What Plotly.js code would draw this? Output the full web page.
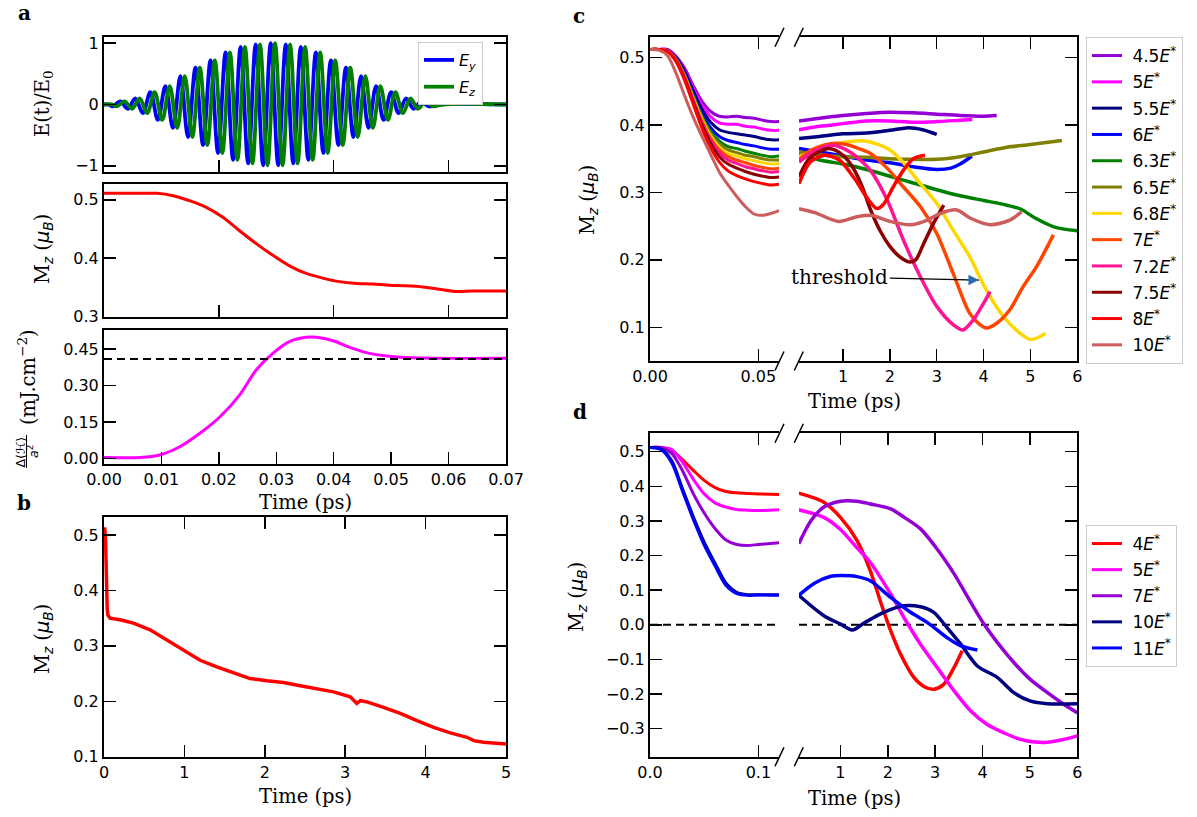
<!DOCTYPE html>
<html><head><meta charset="utf-8">
<script src="https://cdn.plot.ly/plotly-3.0.1.min.js"></script>
<style>html,body{margin:0;padding:0;background:#fff;}#chart{width:1197px;height:817px;}</style>
</head><body><div id="chart"></div>
<script>
// ---------- Panel a (top): laser pulse, extrema ----------
const pulseEyT = [0, 0.0008, 0.00152, 0.00283, 0.00414, 0.00545, 0.00676, 0.00807, 0.00938, 0.01069, 0.01200, 0.01331, 0.01462, 0.01593, 0.01724, 0.01855, 0.01986, 0.02117, 0.02248, 0.02379, 0.02510, 0.02641, 0.02772, 0.02903, 0.03034, 0.03165, 0.03296, 0.03427, 0.03558, 0.03689, 0.03820, 0.03951, 0.04082, 0.04213, 0.04344, 0.04475, 0.04606, 0.04737, 0.04868, 0.04999, 0.05130, 0.05261, 0.05392, 0.05523, 0.05654, 0.0580, 0.0700];
const pulseEyV = [0, 0, -0.03, 0.05, -0.07, 0.10, -0.14, 0.20, -0.25, 0.30, -0.38, 0.46, -0.53, 0.60, -0.66, 0.72, -0.79, 0.85, -0.90, 0.94, -0.96, 0.98, -0.99, 1.00, -0.99, 0.98, -0.96, 0.94, -0.90, 0.85, -0.79, 0.72, -0.66, 0.60, -0.53, 0.46, -0.38, 0.30, -0.25, 0.20, -0.14, 0.10, -0.07, 0.05, -0.03, 0, 0];
const pulseEzT = [0, 0.0015, 0.00227, 0.00358, 0.00489, 0.00620, 0.00751, 0.00882, 0.01013, 0.01144, 0.01275, 0.01406, 0.01537, 0.01668, 0.01799, 0.01930, 0.02061, 0.02192, 0.02323, 0.02454, 0.02585, 0.02716, 0.02847, 0.02978, 0.03109, 0.03240, 0.03371, 0.03502, 0.03633, 0.03764, 0.03895, 0.04026, 0.04157, 0.04288, 0.04419, 0.04550, 0.04681, 0.04812, 0.04943, 0.05074, 0.05205, 0.05336, 0.05467, 0.05598, 0.05729, 0.0590, 0.0700];
const pulseEzV = [0, 0, -0.03, 0.05, -0.07, 0.10, -0.14, 0.20, -0.25, 0.30, -0.38, 0.46, -0.53, 0.60, -0.66, 0.72, -0.79, 0.85, -0.90, 0.94, -0.96, 0.98, -0.99, 1.00, -0.99, 0.98, -0.96, 0.94, -0.90, 0.85, -0.79, 0.72, -0.66, 0.60, -0.53, 0.46, -0.38, 0.30, -0.25, 0.20, -0.14, 0.10, -0.07, 0.05, -0.03, 0, 0];

// ---------- Panel a (middle): Mz during the pulse ----------
const mzShortT = [0, 0.005, 0.0092, 0.012, 0.015, 0.0178, 0.0207, 0.0236, 0.0265, 0.0294, 0.0323, 0.0352, 0.0381, 0.041, 0.044, 0.0468, 0.0497, 0.0526, 0.0555, 0.0584, 0.0613, 0.0642, 0.0671, 0.07];
const mzShortV = [0.511, 0.511, 0.511, 0.507, 0.498, 0.487, 0.470, 0.447, 0.425, 0.405, 0.387, 0.374, 0.366, 0.360, 0.357, 0.356, 0.354, 0.353, 0.351, 0.347, 0.343, 0.344, 0.344, 0.344];

// ---------- Panel a (bottom): absorbed energy ----------
const energyT = [0, 0.0063, 0.0097, 0.0132, 0.0167, 0.0202, 0.0236, 0.0265, 0.0294, 0.0323, 0.0352, 0.037, 0.0399, 0.0428, 0.0457, 0.0486, 0.0515, 0.0573, 0.07];
const energyV = [0.005, 0.005, 0.015, 0.049, 0.104, 0.172, 0.261, 0.364, 0.432, 0.480, 0.498, 0.498, 0.484, 0.457, 0.435, 0.423, 0.416, 0.412, 0.412];
const energyLevelT = [0, 0.07];
const energyLevelV = [0.409, 0.409];

// ---------- Panel b: Mz over 5 ps ----------
const mzLongT = [0, 0.01, 0.02, 0.03, 0.04, 0.05, 0.075, 0.2, 0.365, 0.573, 0.78, 0.988, 1.195, 1.402, 1.61, 1.817, 2.025, 2.232, 2.44, 2.647, 2.855, 3.062, 3.145, 3.19, 3.27, 3.477, 3.685, 3.892, 4.1, 4.307, 4.515, 4.598, 4.72, 5.0];
const mzLongV = [0.511, 0.511, 0.487, 0.405, 0.366, 0.355, 0.350, 0.347, 0.341, 0.329, 0.311, 0.293, 0.274, 0.262, 0.252, 0.241, 0.237, 0.234, 0.228, 0.223, 0.217, 0.208, 0.196, 0.201, 0.199, 0.189, 0.178, 0.165, 0.153, 0.143, 0.135, 0.129, 0.126, 0.123];

// ---------- Panel c ----------
const cLabels = ['4.5<i>E</i><sup>*</sup>', '5<i>E</i><sup>*</sup>', '5.5<i>E</i><sup>*</sup>', '6<i>E</i><sup>*</sup>', '6.3<i>E</i><sup>*</sup>', '6.5<i>E</i><sup>*</sup>', '6.8<i>E</i><sup>*</sup>', '7<i>E</i><sup>*</sup>', '7.2<i>E</i><sup>*</sup>', '7.5<i>E</i><sup>*</sup>', '8<i>E</i><sup>*</sup>', '10<i>E</i><sup>*</sup>'];
const cColors = ['#9400d3', '#ff00ff', '#000080', '#0000ff', '#008000', '#808000', '#ffd700', '#ff4500', '#ff1493', '#8b0000', '#ff0000', '#cd5c5c'];
const cLeftT = [0, 0.004, 0.008, 0.012, 0.016, 0.02, 0.024, 0.028, 0.032, 0.036, 0.04, 0.044, 0.048, 0.052, 0.056, 0.0595];
const c45L = [0.512, 0.512, 0.512, 0.502, 0.484, 0.458, 0.435, 0.420, 0.413, 0.412, 0.413, 0.411, 0.410, 0.407, 0.405, 0.405];
const c5L  = [0.512, 0.512, 0.512, 0.501, 0.481, 0.454, 0.429, 0.412, 0.403, 0.401, 0.401, 0.398, 0.397, 0.394, 0.392, 0.392];
const c55L = [0.512, 0.512, 0.511, 0.500, 0.479, 0.450, 0.423, 0.404, 0.393, 0.389, 0.387, 0.385, 0.383, 0.380, 0.378, 0.378];
const c6L  = [0.512, 0.512, 0.511, 0.498, 0.476, 0.446, 0.417, 0.396, 0.383, 0.377, 0.374, 0.371, 0.369, 0.366, 0.364, 0.364];
const c63L = [0.512, 0.512, 0.510, 0.498, 0.474, 0.443, 0.413, 0.390, 0.376, 0.368, 0.365, 0.361, 0.358, 0.355, 0.353, 0.354];
const c65L = [0.512, 0.512, 0.510, 0.497, 0.473, 0.441, 0.411, 0.387, 0.372, 0.363, 0.359, 0.355, 0.353, 0.350, 0.348, 0.348];
const c68L = [0.512, 0.512, 0.510, 0.497, 0.472, 0.439, 0.408, 0.384, 0.367, 0.358, 0.354, 0.350, 0.347, 0.344, 0.342, 0.343];
const c7L  = [0.512, 0.512, 0.510, 0.496, 0.471, 0.437, 0.405, 0.380, 0.363, 0.353, 0.348, 0.344, 0.340, 0.337, 0.335, 0.336];
const c72L = [0.512, 0.512, 0.510, 0.496, 0.470, 0.436, 0.403, 0.377, 0.359, 0.348, 0.343, 0.338, 0.335, 0.332, 0.330, 0.331];
const c75L = [0.512, 0.512, 0.509, 0.495, 0.468, 0.433, 0.400, 0.373, 0.353, 0.342, 0.336, 0.331, 0.327, 0.324, 0.322, 0.323];
const c8L  = [0.512, 0.512, 0.509, 0.494, 0.466, 0.430, 0.395, 0.366, 0.345, 0.332, 0.325, 0.320, 0.316, 0.313, 0.311, 0.312];
const c10L = [0.512, 0.511, 0.503, 0.477, 0.443, 0.411, 0.383, 0.356, 0.330, 0.311, 0.294, 0.279, 0.268, 0.266, 0.269, 0.273];

const c45RT = [0.06, 0.5, 1.0, 1.5, 2.0, 2.5, 3.0, 3.5, 4.0, 4.28];
const c45RV = [0.406, 0.410, 0.414, 0.417, 0.419, 0.418, 0.416, 0.414, 0.413, 0.414];
const c5RT = [0.06, 0.5, 1.0, 1.5, 2.0, 2.5, 3.0, 3.5, 3.76];
const c5RV = [0.393, 0.398, 0.402, 0.406, 0.406, 0.404, 0.405, 0.407, 0.408];
const c55RT = [0.06, 0.5, 1.0, 1.5, 2.0, 2.4, 2.7, 3.0];
const c55RV = [0.380, 0.383, 0.387, 0.388, 0.392, 0.396, 0.393, 0.386];
const c6RT = [0.06, 0.5, 1.0, 1.5, 2.0, 2.5, 3.0, 3.3, 3.5, 3.75];
const c6RV = [0.365, 0.360, 0.354, 0.348, 0.344, 0.338, 0.334, 0.336, 0.342, 0.354];
const c63RT = [0.06, 0.5, 1.0, 1.5, 2.0, 2.5, 3.0, 3.5, 4.0, 4.5, 4.8, 5.1, 5.5, 6.0];
const c63RV = [0.357, 0.348, 0.342, 0.334, 0.324, 0.314, 0.304, 0.295, 0.288, 0.281, 0.275, 0.262, 0.249, 0.243];
const c65RT = [0.06, 0.5, 1.0, 1.5, 2.0, 2.5, 3.0, 3.5, 4.0, 4.5, 5.0, 5.67];
const c65RV = [0.360, 0.356, 0.353, 0.352, 0.350, 0.349, 0.349, 0.353, 0.360, 0.367, 0.371, 0.377];
const c68RT = [0.06, 0.5, 1.0, 1.5, 2.0, 2.3, 2.65, 3.0, 3.35, 3.7, 4.06, 4.42, 4.78, 5.0, 5.2, 5.32];
const c68RV = [0.353, 0.365, 0.374, 0.376, 0.363, 0.343, 0.313, 0.284, 0.244, 0.205, 0.155, 0.116, 0.091, 0.082, 0.086, 0.091];
const c7RT = [0.06, 0.3, 0.7, 1.0, 1.3, 1.58, 1.94, 2.29, 2.65, 3.0, 3.35, 3.7, 3.92, 4.06, 4.28, 4.56, 4.84, 5.13, 5.49];
const c7RV = [0.348, 0.362, 0.372, 0.372, 0.366, 0.358, 0.336, 0.308, 0.279, 0.239, 0.180, 0.121, 0.104, 0.099, 0.106, 0.126, 0.160, 0.190, 0.237];
const c72RT = [0.06, 0.4, 0.8, 1.1, 1.3, 1.58, 1.94, 2.29, 2.65, 3.0, 3.35, 3.56, 3.78, 3.96, 4.14];
const c72RV = [0.345, 0.362, 0.370, 0.362, 0.352, 0.333, 0.289, 0.229, 0.175, 0.131, 0.104, 0.096, 0.111, 0.131, 0.153];
const c75RT = [0.06, 0.3, 0.7, 1.0, 1.2, 1.4, 1.6, 1.8, 2.0, 2.2, 2.4, 2.55, 2.72, 2.93, 3.15];
const c75RV = [0.323, 0.352, 0.365, 0.355, 0.338, 0.310, 0.272, 0.242, 0.220, 0.205, 0.197, 0.200, 0.224, 0.254, 0.281];
const c8RT = [0.06, 0.3, 0.6, 0.92, 1.27, 1.5, 1.72, 1.86, 2.07, 2.29, 2.5, 2.75];
const c8RV = [0.313, 0.345, 0.355, 0.348, 0.318, 0.293, 0.276, 0.282, 0.308, 0.333, 0.350, 0.355];
const c10RT = [0.06, 0.4, 0.9, 1.3, 1.6, 2.0, 2.44, 2.8, 3.08, 3.43, 3.71, 4.14, 4.56, 4.81];
const c10RV = [0.276, 0.270, 0.257, 0.264, 0.266, 0.257, 0.252, 0.259, 0.269, 0.274, 0.262, 0.252, 0.259, 0.271];

// ---------- Panel d ----------
const dLabels = ['4<i>E</i><sup>*</sup>', '5<i>E</i><sup>*</sup>', '7<i>E</i><sup>*</sup>', '10<i>E</i><sup>*</sup>', '11<i>E</i><sup>*</sup>'];
const dColors = ['#ff0000', '#ff00ff', '#9400d3', '#000080', '#0000ff'];
const dLeftT = [0, 0.01, 0.02, 0.03, 0.04, 0.05, 0.06, 0.07, 0.08, 0.09, 0.1, 0.119];
const d4L  = [0.512, 0.512, 0.503, 0.477, 0.446, 0.417, 0.396, 0.385, 0.381, 0.379, 0.378, 0.376];
const d5L  = [0.512, 0.512, 0.506, 0.470, 0.420, 0.378, 0.352, 0.340, 0.333, 0.331, 0.330, 0.332];
const d7L  = [0.512, 0.512, 0.495, 0.445, 0.378, 0.323, 0.278, 0.245, 0.232, 0.229, 0.232, 0.237];
const d10L = [0.512, 0.508, 0.474, 0.393, 0.312, 0.239, 0.178, 0.121, 0.094, 0.087, 0.087, 0.087];
const d11L = [0.512, 0.506, 0.468, 0.386, 0.304, 0.230, 0.170, 0.114, 0.090, 0.085, 0.086, 0.085];
const d4RT = [0.12, 0.65, 1.0, 1.35, 1.63, 1.84, 2.06, 2.27, 2.55, 2.76, 2.97, 3.18, 3.4, 3.57];
const d4RV = [0.380, 0.354, 0.310, 0.243, 0.156, 0.069, -0.017, -0.085, -0.152, -0.178, -0.186, -0.172, -0.123, -0.075];
const d5RT = [0.12, 0.65, 1.0, 1.35, 1.63, 2.06, 2.34, 2.69, 3.04, 3.4, 3.75, 4.1, 4.45, 4.8, 5.3, 5.72, 6.0];
const d5RV = [0.332, 0.310, 0.275, 0.222, 0.180, 0.089, 0.021, -0.056, -0.123, -0.191, -0.249, -0.288, -0.312, -0.331, -0.340, -0.331, -0.321];
const d7RT = [0.12, 0.38, 0.65, 1.0, 1.35, 1.63, 2.06, 2.34, 2.69, 3.04, 3.4, 3.75, 4.03, 4.31, 4.66, 5.0, 5.37, 5.72, 6.0];
const d7RV = [0.234, 0.301, 0.340, 0.357, 0.357, 0.349, 0.335, 0.311, 0.277, 0.219, 0.147, 0.065, 0.002, -0.051, -0.109, -0.157, -0.196, -0.230, -0.254];
const d10RT = [0.12, 0.65, 1.0, 1.25, 1.5, 1.91, 2.34, 2.69, 2.97, 3.25, 3.54, 3.89, 4.31, 4.66, 5.0, 5.37, 6.0];
const d10RV = [0.085, 0.026, 0.002, -0.015, 0.005, 0.036, 0.055, 0.052, 0.036, -0.008, -0.056, -0.119, -0.152, -0.196, -0.220, -0.228, -0.228];
const d11RT = [0.12, 0.45, 0.8, 1.0, 1.35, 1.63, 2.06, 2.48, 2.83, 3.25, 3.54, 3.89];
const d11RV = [0.085, 0.120, 0.140, 0.142, 0.139, 0.127, 0.079, 0.036, 0.007, -0.037, -0.061, -0.073];
const zeroLevelV = [0, 0];

// ---------- layout helpers ----------
const W = 1197, H = 817;
const fx = p => p / W;
const fy = p => 1 - p / H;
const SANS = 'DejaVu Sans', SERIF = 'DejaVu Serif';
const TITLE = 19.5, TICK = 16;
const NB = '\u00a0';

const traces = [];
function line(x, y, xa, ya, color, width, extra) {
  traces.push(Object.assign({x: x, y: y, xaxis: xa, yaxis: ya, type: 'scatter', mode: 'lines',
    line: {color: color, width: width, shape: 'spline', smoothing: 0.8}, showlegend: false, hoverinfo: 'skip'}, extra || {}));
}

// panel a
line(pulseEyT, pulseEyV, 'x', 'y', '#0000ff', 3.8, {name: '<i>E</i><sub><i>y</i></sub>', showlegend: true, legend: 'legend', legendgroup: 'ey', line: {color: '#0000ff', width: 3.8, shape: 'spline', smoothing: 1}});
line(pulseEzT, pulseEzV, 'x', 'y', '#008000', 3.8, {name: '<i>E</i><sub><i>z</i></sub>', showlegend: true, legend: 'legend', legendgroup: 'ez', line: {color: '#008000', width: 3.8, shape: 'spline', smoothing: 1}});
line(mzShortT, mzShortV, 'x2', 'y2', '#ff0000', 3);
line(energyT, energyV, 'x3', 'y3', '#ff00ff', 3);
traces.push({x: energyLevelT, y: energyLevelV, xaxis: 'x3', yaxis: 'y3', type: 'scatter', mode: 'lines',
  line: {color: '#000', width: 2, dash: '8px,5px'}, showlegend: false, hoverinfo: 'skip'});
// panel b
traces.push({x: mzLongT, y: mzLongV, xaxis: 'x4', yaxis: 'y4', type: 'scatter', mode: 'lines',
  line: {color: '#ff0000', width: 3.5}, showlegend: false, hoverinfo: 'skip'});
// panel c
const cLeft = [c45L, c5L, c55L, c6L, c63L, c65L, c68L, c7L, c72L, c75L, c8L, c10L];
const cRight = [[c45RT, c45RV], [c5RT, c5RV], [c55RT, c55RV], [c6RT, c6RV], [c63RT, c63RV], [c65RT, c65RV],
  [c68RT, c68RV], [c7RT, c7RV], [c72RT, c72RV], [c75RT, c75RV], [c8RT, c8RV], [c10RT, c10RV]];
cLeft.forEach((v, i) => {
  line(cLeftT, v, 'x5', 'y5', cColors[i], 3, {name: NB + cLabels[i], showlegend: true, legend: 'legend2', legendgroup: 'c' + i});
  line(cRight[i][0], cRight[i][1], 'x6', 'y6', cColors[i], 3.5, {legendgroup: 'c' + i});
});
// panel d
traces.push({x: [0, 0.119], y: zeroLevelV, xaxis: 'x7', yaxis: 'y7', type: 'scatter', mode: 'lines',
  line: {color: '#000', width: 2, dash: '8px,5px'}, showlegend: false, hoverinfo: 'skip'});
traces.push({x: [0.125, 6], y: zeroLevelV, xaxis: 'x8', yaxis: 'y8', type: 'scatter', mode: 'lines',
  line: {color: '#000', width: 2, dash: '8px,5px'}, showlegend: false, hoverinfo: 'skip'});
const dLeft = [d4L, d5L, d7L, d10L, d11L];
const dRight = [[d4RT, d4RV], [d5RT, d5RV], [d7RT, d7RV], [d10RT, d10RV], [d11RT, d11RV]];
dLeft.forEach((v, i) => {
  line(dLeftT, v, 'x7', 'y7', dColors[i], 3, {name: NB + dLabels[i], showlegend: true, legend: 'legend3', legendgroup: 'd' + i});
  line(dRight[i][0], dRight[i][1], 'x8', 'y8', dColors[i], 3.5, {legendgroup: 'd' + i});
});

// axes
const base = {showgrid: false, zeroline: false, showline: true, linecolor: '#000', linewidth: 2,
  ticks: 'inside', ticklen: 12, tickwidth: 1.5, tickcolor: '#000',
  tickfont: {family: SANS, size: TICK, color: '#000'}, fixedrange: true};
const A = o => Object.assign({}, base, o);
const aX = [fx(104), fx(506)];
const cX1 = [fx(650), fx(779)], cX2 = [fx(799), fx(1077.3)];
const cY = [fy(361), fy(37.3)], dY = [fy(756.7), fy(433.3)];

const legendStyle = {xanchor: 'left', yanchor: 'top', bgcolor: '#fff', bordercolor: '#cccccc', borderwidth: 1};
const layout = {
  width: W, height: H, margin: {l: 0, r: 0, t: 0, b: 0},
  paper_bgcolor: '#fff', plot_bgcolor: 'rgba(0,0,0,0)',
  font: {family: SANS, size: TICK, color: '#000'},
  xaxis: A({domain: aX, range: [0, 0.07], anchor: 'y', tickvals: [0.02, 0.04, 0.06], showticklabels: false, mirror: true}),
  yaxis: A({domain: [fy(172), fy(37)], range: [-1.1, 1.1], anchor: 'x', tickvals: [-1, 0, 1], mirror: 'ticks'}),
  xaxis2: A({domain: aX, range: [0, 0.07], anchor: 'y2', tickvals: [0.02, 0.04, 0.06], showticklabels: false, mirror: true}),
  yaxis2: A({domain: [fy(316.7), fy(184)], range: [0.3, 0.527], anchor: 'x2', tickvals: [0.3, 0.4, 0.5], tickformat: '.1f', mirror: 'ticks'}),
  xaxis3: A({domain: aX, range: [0, 0.07], anchor: 'y3', tickvals: [0, 0.01, 0.02, 0.03, 0.04, 0.05, 0.06, 0.07], tickformat: '.2f', mirror: true}),
  yaxis3: A({domain: [fy(464), fy(330)], range: [-0.022, 0.528], anchor: 'x3', tickvals: [0, 0.15, 0.3, 0.45], tickformat: '.2f', mirror: true}),
  xaxis4: A({domain: aX, range: [0, 5], anchor: 'y4', tickvals: [0, 1, 2, 3, 4, 5], mirror: 'ticks'}),
  yaxis4: A({domain: [fy(756.7), fy(516.7)], range: [0.1, 0.533], anchor: 'x4', tickvals: [0.1, 0.2, 0.3, 0.4, 0.5], tickformat: '.1f', mirror: 'ticks'}),
  xaxis5: A({domain: cX1, range: [0, 0.0595], anchor: 'y5', tickvals: [0, 0.05], tickformat: '.2f', mirror: 'ticks'}),
  yaxis5: A({domain: cY, range: [0.05, 0.53], anchor: 'x5', tickvals: [0.1, 0.2, 0.3, 0.4, 0.5], tickformat: '.1f'}),
  xaxis6: A({domain: cX2, range: [0.06, 6], anchor: 'y6', tickvals: [1, 2, 3, 4, 5, 6], mirror: 'ticks'}),
  yaxis6: A({domain: cY, range: [0.05, 0.53], anchor: 'x6', side: 'right', tickvals: [0.1, 0.2, 0.3, 0.4, 0.5], showticklabels: false}),
  xaxis7: A({domain: cX1, range: [0, 0.119], anchor: 'y7', tickvals: [0, 0.1], tickformat: '.1f', mirror: 'ticks'}),
  yaxis7: A({domain: dY, range: [-0.381, 0.553], anchor: 'x7', tickvals: [-0.3, -0.2, -0.1, 0, 0.1, 0.2, 0.3, 0.4, 0.5], tickformat: '.1f'}),
  xaxis8: A({domain: cX2, range: [0.125, 6], anchor: 'y8', tickvals: [1, 2, 3, 4, 5, 6], mirror: 'ticks'}),
  yaxis8: A({domain: dY, range: [-0.381, 0.553], anchor: 'x8', side: 'right', tickvals: [-0.3, -0.2, -0.1, 0, 0.1, 0.2, 0.3, 0.4, 0.5], showticklabels: false}),
  legend: Object.assign({x: fx(418), y: fy(42), font: {family: SANS, size: 16, color: '#000'}, tracegroupgap: 3}, legendStyle),
  legend2: Object.assign({x: fx(1086), y: fy(37), font: {family: SANS, size: 17, color: '#000'}, tracegroupgap: 1.2}, legendStyle),
  legend3: Object.assign({x: fx(1086), y: fy(525), font: {family: SANS, size: 17, color: '#000'}, tracegroupgap: 1}, legendStyle),
  shapes: [], annotations: []
};

// text labels
function txt(text, x, y, size, family, extra) {
  layout.annotations.push(Object.assign({text: text, x: fx(x), y: fy(y), xref: 'paper', yref: 'paper', showarrow: false,
    xanchor: 'center', yanchor: 'middle', font: {family: family, size: size, color: '#000'}}, extra || {}));
}
const sub = s => '<sub><span style="font-family:DejaVu Sans"><i>' + s + '</i></span></sub>';
const MZ = 'M' + sub('z') + ' (<span style="font-family:DejaVu Sans"><i>μ</i></span>' + sub('B') + ')';
txt('<b>a</b>', 24, 0, 20, SERIF, {yanchor: 'top', borderpad: 0});
txt('<b>b</b>', 24, 503, 20, SERIF);
txt('<b>c</b>', 579, 16, 20, SERIF);
txt('<b>d</b>', 580, 412, 20, SERIF);
txt('E(t)/E<sub>0</sub>', 44, 104, TITLE, SERIF, {textangle: -90});
txt(MZ, 43, 249, TITLE, SERIF, {textangle: -90});
txt('(mJ.cm<sup>−2</sup>)', 27, 377, TITLE, SERIF, {textangle: -90});
txt('Δ⟨<i>ℋ</i>⟩', 19.5, 452, 12.5, SANS, {textangle: -90});
txt('<i>a</i><sup>2</sup>', 33, 452, 12.5, SANS, {textangle: -90});
layout.shapes.push({type: 'line', xref: 'paper', yref: 'paper', x0: fx(26.5), x1: fx(26.5), y0: fy(435), y1: fy(468), line: {color: '#000', width: 1}});
txt('Time (ps)', 305, 503, TITLE, SERIF);
txt(MZ, 43, 639, TITLE, SERIF, {textangle: -90});
txt('Time (ps)', 305, 796, TITLE, SERIF);
txt(MZ, 588, 200, TITLE, SERIF, {textangle: -90});
txt('Time (ps)', 854, 402, TITLE, SERIF);
txt(MZ, 577, 597, TITLE, SERIF, {textangle: -90});
txt('Time (ps)', 854, 798, TITLE, SERIF);

// threshold annotation
layout.annotations.push({text: 'threshold', x: 3.90, y: 0.170, xref: 'x6', yref: 'y6', ax: -139, ay: -3,
  showarrow: true, arrowhead: 0, arrowwidth: 1.3, arrowcolor: '#000', standoff: 0,
  font: {family: SERIF, size: 20, color: '#000'}});
layout.annotations.push({text: '', x: 3.90, y: 0.170, xref: 'x6', yref: 'y6', ax: -14, ay: 0,
  showarrow: true, arrowhead: 2, arrowsize: 1.5, arrowwidth: 1.4, arrowcolor: '#2b6cb0', standoff: 0});

// axis-break marks
function slash(cx, cy) {
  layout.shapes.push({type: 'line', xref: 'paper', yref: 'paper', x0: fx(cx - 4.5), y0: fy(cy + 9.5), x1: fx(cx + 4.5), y1: fy(cy - 9.5),
    line: {color: '#000', width: 1.5}});
}
[37.3, 361, 433.3, 756.7].forEach(cy => { slash(779.5, cy); slash(798.8, cy); });

Plotly.newPlot('chart', traces, layout, {displayModeBar: false, staticPlot: true});
</script></body></html>
